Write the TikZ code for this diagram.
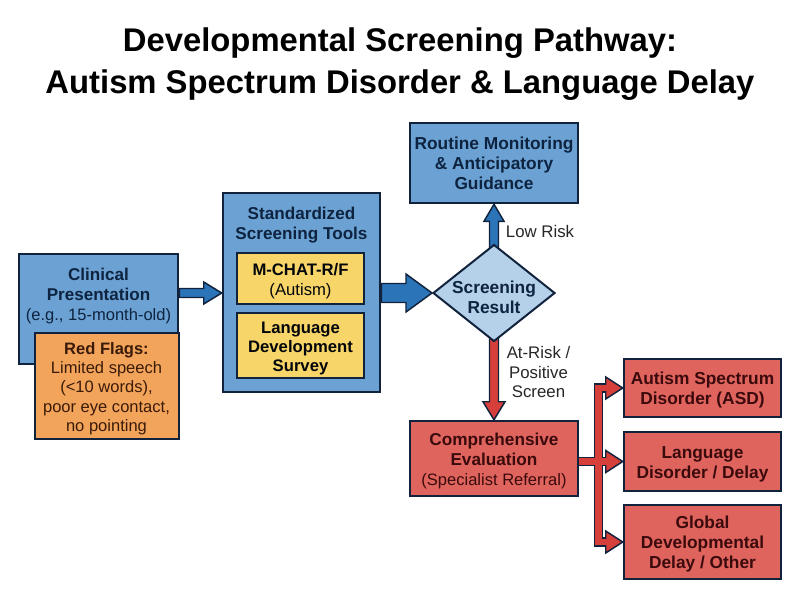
\documentclass[tikz,border=0pt]{standalone}
\usepackage{fontspec}
\setmainfont{Liberation Sans}
\usetikzlibrary{calc,backgrounds,shapes.geometric}
\definecolor{edge}{HTML}{10223C}
\definecolor{boxblue}{HTML}{6BA2D3}
\definecolor{boxyellow}{HTML}{F8D568}
\definecolor{boxorange}{HTML}{F3A45B}
\definecolor{boxred}{HTML}{E0645E}
\definecolor{diamondblue}{HTML}{B5D1E9}
\definecolor{arrowblue}{HTML}{2B74B8}
\definecolor{arrowred}{HTML}{D63F3A}
\definecolor{inkblue}{HTML}{0E2340}
\definecolor{inkred}{HTML}{3A0A0C}
\definecolor{inkorange}{HTML}{3A1A08}
\def\u{0.75pt}
\newcommand{\lead}{\rule{0pt}{13pt}}
\newcommand{\bsize}{\fontsize{13}{15}\selectfont}
\newcommand{\rsize}{\fontsize{12.4}{15}\selectfont}
\tikzset{
  x=0.75pt,y=-0.75pt,
  box/.style={rectangle,draw=edge,line width=1.9pt,inner sep=0pt,align=center},
  bluebox/.style={box,fill=boxblue,text=inkblue},
  yellowbox/.style={box,line width=1.5pt,fill=boxyellow,text=black!85!edge},
  orangebox/.style={box,line width=1.5pt,fill=boxorange,text=inkorange},
  redbox/.style={box,fill=boxred,text=inkred},
  sz/.style 2 args={minimum width=#1*\u,minimum height=#2*\u},
  boxtext/.style={inner sep=0pt,align=center},
  edgelabel/.style={font=\fontsize{12.6}{14.4}\selectfont,inner sep=0pt,align=center,text=black!85},
  blockedge/.style={draw=edge,line width=1.1pt,line join=miter},
  branchdark/.style={draw=edge,line width=7.2pt,line join=miter},
  branchfill/.style={draw=arrowred,line width=5pt,line join=miter}
}
% start, end, shaft half-width, head length, head half-width, colour
\newcommand{\blockarrow}[6]{
  \coordinate (A) at (#1);
  \coordinate (B) at (#2);
  \coordinate (T) at ($(B)!#4*\u!(A)$);
  \path[blockedge,fill=#6]
    ($(A)!#3*\u!90:(B)$) -- ($(T)!#3*\u!90:(B)$) -- ($(T)!#5*\u!90:(B)$)
    -- (B)
    -- ($(T)!#5*\u!-90:(B)$) -- ($(T)!#3*\u!-90:(B)$) -- ($(A)!#3*\u!-90:(B)$) -- cycle;
}
\newcommand{\branchhead}[1]{
  \coordinate (B) at (#1);
  \coordinate (T) at ($(B)+(-17,0)$);
  \path[blockedge,fill=arrowred] ($(T)+(0,-11)$) -- (B) -- ($(T)+(0,11)$) -- cycle;
}
\begin{document}
\begin{tikzpicture}
\useasboundingbox (0,0) rectangle (800,600);
\node[font=\bfseries\fontsize{24.6}{31.5}\selectfont,align=center,inner sep=0pt,text=black] (title) at (400,64)
  {Developmental Screening Pathway:\\Autism Spectrum Disorder \& Language Delay};

\node[bluebox,sz={159}{110}] (clin) at (98.5,309) {};
\node[boxtext,text=inkblue,font=\fontsize{12.8}{15}\selectfont] (clintext) at (98.5,296)
  {\textbf{Clinical}\\\textbf{Presentation}\\{\rsize (e.g., 15-month-old)}};
\node[orangebox,sz={144}{106},font=\fontsize{12.4}{14.3}\selectfont] (flags) at (106.5,386)
  {\lead\textbf{Red Flags:}\\Limited speech\\(<10 words),\\poor eye contact,\\no pointing};

\node[bluebox,sz={157}{199}] (tools) at (301.5,292.5) {};
\node[boxtext,text=inkblue,font=\bfseries\fontsize{12.85}{15}\selectfont] (toolstext) at (301.5,225)
  {Standardized\\Screening Tools};
\node[yellowbox,sz={127}{51},font=\fontsize{12.5}{15}\selectfont] (mchat) at (300.5,278.5)
  {\lead\textbf{M-CHAT-R/F}\\(Autism)};
\node[yellowbox,sz={127}{65},font=\bfseries\fontsize{12.5}{14.4}\selectfont] (survey) at (300.5,345.5)
  {\lead Language\\Development\\Survey};

\node[diamond,draw=edge,line width=1.5pt,fill=diamondblue,inner sep=0pt,
  minimum width=122*\u,minimum height=97*\u] (res) at (494,293) {};
\node[boxtext,text=inkblue,font=\bfseries\bsize] (restext) at (494,297) {Screening\\Result};

\node[bluebox,sz={168}{80},font=\bfseries\bsize] (routine) at (494,163)
  {Routine Monitoring\\\& Anticipatory\\Guidance};
\node[redbox,sz={168}{75},font=\fontsize{12.9}{15}\selectfont] (comp) at (494,458.5)
  {\lead\textbf{Comprehensive}\\\textbf{Evaluation}\\{\rsize (Specialist Referral)}};
\node[redbox,sz={157}{58},font=\bfseries\bsize] (asd) at (702.5,388)
  {\lead Autism Spectrum\\Disorder (ASD)};
\node[redbox,sz={157}{59},font=\bfseries\bsize] (lang) at (702.5,461.5)
  {\lead Language\\Disorder / Delay};
\node[redbox,sz={157}{74},font=\bfseries\bsize] (glob) at (702.5,542)
  {\lead Global\\Developmental\\Delay / Other};

\node[edgelabel] (low) at (540,231) {Low Risk};
\node[edgelabel] (risk) at (538.5,372) {At-Risk /\\Positive\\Screen};

\begin{scope}[on background layer]
  \blockarrow{clin.east |- res.west}{tools.west |- res.west}{4.5}{18}{11}{arrowblue}
  \blockarrow{tools.east |- res.west}{res.west}{9.5}{26}{19}{arrowblue}
  \blockarrow{res.center}{routine.south}{4.5}{17}{10}{arrowblue}
  \blockarrow{res.center}{comp.north}{4.5}{18}{11}{arrowred}
  \coordinate (tr) at (598.5,0);
  \path[branchdark] ($(asd.west)+(-12,0)$) -- (tr |- asd.west) -- (tr |- glob.west) -- ($(glob.west)+(-12,0)$);
  \path[branchdark] (comp.east |- lang.west) -- ($(lang.west)+(-12,0)$);
  \branchhead{asd.west}
  \branchhead{lang.west}
  \branchhead{glob.west}
  \path[branchfill] ($(asd.west)+(-12,0)$) -- (tr |- asd.west) -- (tr |- glob.west) -- ($(glob.west)+(-12,0)$);
  \path[branchfill] (comp.east |- lang.west) -- ($(lang.west)+(-12,0)$);
\end{scope}
\end{tikzpicture}
\end{document}
